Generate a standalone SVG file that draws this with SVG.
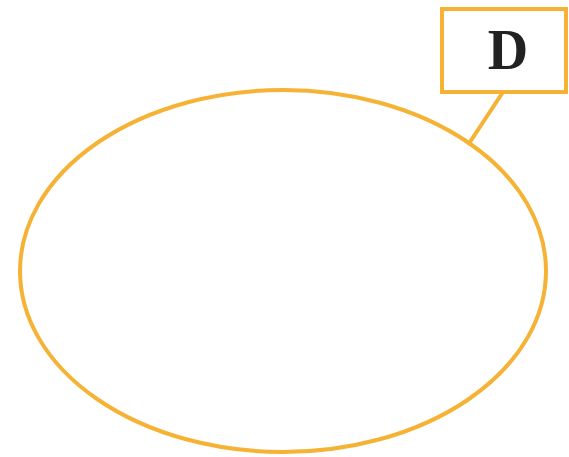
<svg xmlns="http://www.w3.org/2000/svg" width="569" height="457" viewBox="0 0 569 457">
<style>
.o{fill:none;stroke:#F6B234;stroke-width:4}
.t{font-family:"Liberation Serif",serif;font-weight:bold;font-size:56px;fill:#222}
</style>
<rect width="569" height="457" fill="#fff"/>
<g id="connectors"><line class="o" x1="503" y1="92" x2="468" y2="145"/></g>
<g id="ellipse"><ellipse class="o" cx="283" cy="271" rx="263" ry="181"/></g>
<g id="labelD"><rect class="o" x="442" y="9" width="124" height="83"/><text class="t" x="508" y="69" text-anchor="middle">D</text></g>
</svg>
